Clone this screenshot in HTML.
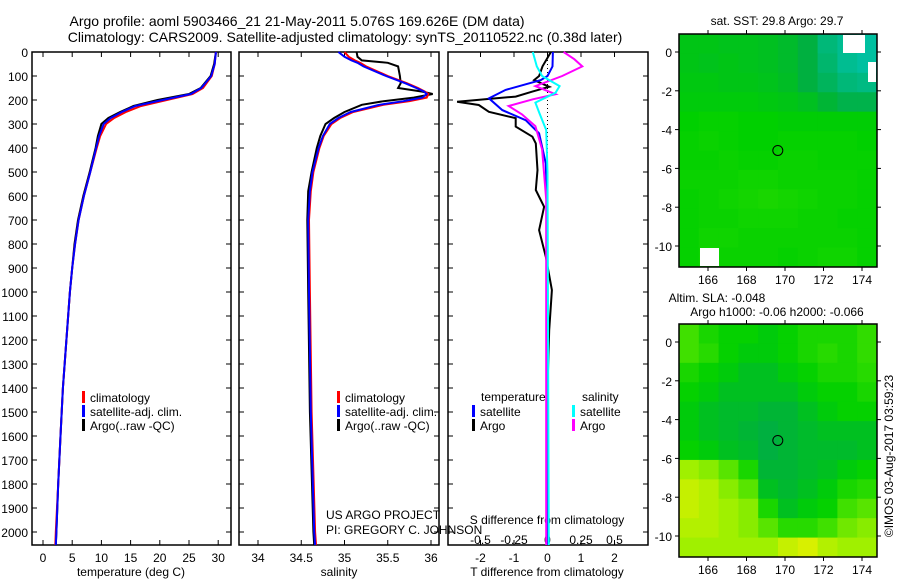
<!DOCTYPE html>
<html><head><meta charset="utf-8"><style>
html,body{margin:0;padding:0;background:#fff;}
svg{display:block;font-family:"Liberation Sans",sans-serif;}
text{fill:#000;}
</style></head><body>
<svg id="chart" width="900" height="580" viewBox="0 0 900 580" xmlns="http://www.w3.org/2000/svg">
<text x="297" y="26" font-size="14" text-anchor="middle">Argo profile: aoml 5903466_21 21-May-2011 5.076S 169.626E (DM data)</text>
<text x="345" y="42" font-size="14" text-anchor="middle">Climatology: CARS2009. Satellite-adjusted climatology: synTS_20110522.nc (0.38d later)</text>
<g id="g"></g>
</svg>
<script>
// ---- data ----
const depthTicks=[0,100,200,300,400,500,600,700,800,900,1000,1100,1200,1300,1400,1500,1600,1700,1800,1900,2000];
const tempTicks=[0,5,10,15,20,25,30];
const salTicks=[34,34.5,35,35.5,36];
const tdiffTicks=[-2,-1,0,1,2];
const sdiffTicks=[-0.5,-0.25,0,0.25,0.5];
const latTicks=[0,-2,-4,-6,-8,-10];
const lonTicks=[166,168,170,172,174];

const tDepth=[0,50,100,150,175,200,225,250,275,300,350,400,500,600,700,800,900,1000,1200,1400,1600,1800,2000,2054];
const tArgo=[29.6,29.3,28.7,27,25,19.6,15.5,13.2,11.2,10.0,9.4,9.0,8.0,6.9,6.0,5.4,5.0,4.6,4.0,3.4,3.0,2.6,2.3,2.2];
const tClim=[29.6,29.4,28.9,27.4,25.6,21.2,16.8,14.2,12.2,10.8,9.8,9.2,8.1,7.0,6.1,5.5,5.0,4.6,4.0,3.4,3.0,2.6,2.2,2.1];
const tSat=[29.6,29.4,28.8,27.1,25.3,20.5,15.8,13.5,11.6,10.4,9.6,9.1,8.1,7.0,6.1,5.5,5.0,4.6,4.0,3.4,3.0,2.6,2.3,2.2];

const sDepth=[0,20,35,45,60,100,130,150,165,175,190,205,220,250,275,300,350,400,500,580,700,1000,1500,2000,2054];
const sArgo=[35.14,35.15,35.2,35.5,35.62,35.64,35.65,35.62,35.9,36.02,35.8,35.45,35.2,35.0,34.88,34.78,34.72,34.68,34.62,34.58,34.57,34.58,34.6,34.64,34.65];
const sClim=[35.0,35.05,35.12,35.18,35.25,35.5,35.72,35.85,35.93,35.97,35.95,35.75,35.45,35.1,34.95,34.85,34.76,34.71,34.64,34.61,34.59,34.6,34.62,34.66,34.67];
const sSat=[34.93,35.0,35.08,35.15,35.22,35.48,35.7,35.83,35.92,35.95,35.9,35.68,35.4,35.07,34.93,34.83,34.75,34.7,34.63,34.6,34.58,34.59,34.61,34.65,34.66];

const dtDepthSat=[0,60,100,117,158,193,242,284,339,464,700,1000,1500,2054];
const dtSat=[0.16,0.15,0.0,-0.2,-1.25,-1.75,-1.35,-0.65,-0.25,-0.05,0.0,0.0,0.0,0.0];
const dtDepthArgo=[0,60,100,117,145,165,186,207,221,249,276,311,353,381,492,575,645,742,853,992,1159,1400,2054];
const dtArgo=[0.1,-0.15,-0.25,-0.4,0.05,-0.45,-0.95,-2.7,-2.05,-1.75,-0.95,-0.95,-0.45,-0.35,-0.3,-0.35,-0.1,-0.25,-0.05,0.13,0.05,0.0,0.0];
const dsDepthSat=[0,60,100,142,170,211,256,325,500,2054];
const dsSat=[-0.11,-0.08,-0.04,0.09,0.06,-0.09,-0.06,-0.01,0.0,0.01];
const dsDepthArgo=[0,30,60,100,142,176,197,225,260,309,406,615,2054];
const dsArgo=[0.12,0.2,0.26,0.11,-0.09,0.06,-0.11,-0.29,-0.19,-0.09,-0.04,-0.01,-0.01];

const sstGrid=[
[.38,.38,.37,.37,.36,.34,.3,.2,.15,.12],
[.38,.37,.38,.37,.36,.34,.3,.22,.15,.12],
[.39,.39,.38,.38,.37,.35,.3,.25,.2,.18],
[.4,.4,.4,.4,.39,.38,.36,.32,.28,.28],
[.42,.43,.43,.42,.42,.41,.41,.41,.41,.41],
[.43,.44,.43,.42,.42,.43,.43,.43,.43,.42],
[.43,.43,.44,.43,.43,.44,.44,.43,.43,.43],
[.44,.44,.44,.45,.45,.44,.44,.44,.44,.43],
[.43,.44,.45,.46,.47,.46,.45,.44,.44,.43],
[.43,.44,.44,.45,.45,.45,.44,.44,.43,.43],
[.43,.45,.45,.44,.44,.44,.44,.44,.44,.43],
[.43,.45,.44,.44,.44,.43,.44,.45,.45,.43]];
const slaGrid=[
[.55,.47,.43,.43,.4,.43,.47,.47,.47,.52],
[.55,.5,.43,.4,.4,.43,.47,.5,.47,.52],
[.47,.43,.4,.36,.36,.4,.43,.47,.47,.5],
[.43,.4,.36,.36,.36,.36,.4,.43,.43,.47],
[.4,.36,.34,.34,.32,.32,.36,.4,.43,.43],
[.4,.36,.34,.32,.3,.32,.34,.36,.36,.36],
[.43,.4,.36,.34,.3,.32,.34,.34,.34,.36],
[.75,.7,.6,.47,.32,.32,.34,.36,.4,.43],
[.85,.8,.7,.6,.36,.33,.36,.4,.47,.5],
[.85,.8,.75,.7,.47,.36,.4,.43,.55,.6],
[.8,.8,.75,.7,.6,.5,.5,.55,.65,.7],
[.75,.75,.75,.75,.75,.85,.9,.8,.75,.75]];

// ---- helpers ----
const NS='http://www.w3.org/2000/svg';
const G=document.getElementById('g');
function mk(tag,attrs,parent){const e=document.createElementNS(NS,tag);for(const k in attrs)e.setAttribute(k,attrs[k]);(parent||G).appendChild(e);return e;}
function txt(s,x,y,size,anchor,name){const t=mk('text',{x:x,y:y,'font-size':size,'text-anchor':anchor||'start'});t.textContent=s;


return t;}
const Y=d=>52+d*0.24;
const PT=52, PB=545;
const panels=[{x0:32,x1:231},{x0:239,x1:439},{x0:448,x1:648}];
const Xt=v=>43+v*5.84;
const Xs=v=>258+(v-34)*86.5;
const Xdt=v=>547.5+v*33.5;
const Xds=v=>547.5+v*134;

panels.forEach((p,i)=>{
  const r=mk('rect',{x:p.x0,y:PT,width:p.x1-p.x0,height:PB-PT,fill:'none',stroke:'#000','stroke-width':1.5});
  
  
  depthTicks.forEach(d=>{
    mk('line',{x1:p.x0,x2:p.x0+5,y1:Y(d),y2:Y(d),stroke:'#000'});
    mk('line',{x1:p.x1,x2:p.x1-5,y1:Y(d),y2:Y(d),stroke:'#000'});
  });
});
depthTicks.forEach(d=>{txt(String(d),28,Y(d)+5,12,'end','depth-tick-label');});
tempTicks.forEach(v=>{mk('line',{x1:Xt(v),x2:Xt(v),y1:PB,y2:PB-5,stroke:'#000'});mk('line',{x1:Xt(v),x2:Xt(v),y1:PT,y2:PT+5,stroke:'#000'});txt(String(v),Xt(v),562,12,'middle','temp-tick-label');});
salTicks.forEach(v=>{mk('line',{x1:Xs(v),x2:Xs(v),y1:PB,y2:PB-5,stroke:'#000'});mk('line',{x1:Xs(v),x2:Xs(v),y1:PT,y2:PT+5,stroke:'#000'});txt(String(v),Xs(v),562,12,'middle','salinity-tick-label');});
tdiffTicks.forEach(v=>{mk('line',{x1:Xdt(v),x2:Xdt(v),y1:PB,y2:PB-5,stroke:'#000'});mk('line',{x1:Xdt(v),x2:Xdt(v),y1:PT,y2:PT+5,stroke:'#000'});txt(String(v),Xdt(v),562,12,'middle','tdiff-tick-label');});
sdiffTicks.forEach(v=>{txt(String(v),Xds(v),544,12,'middle','sdiff-tick-label');});
txt('temperature (deg C)',131,576,12,'middle','temperature-axis-title');
txt('salinity',339,576,12,'middle','salinity-axis-title');
txt('T difference from climatology',547,576,12,'middle','tdiff-axis-title');
txt('S difference from climatology',547,524,12,'middle','sdiff-axis-title');
txt('US ARGO PROJECT',326,519,12,'start','project-credit');
txt('PI: GREGORY C. JOHNSON',326,534,12,'start','pi-credit');
mk('line',{x1:547.5,x2:547.5,y1:PT,y2:PB,stroke:'#000','stroke-dasharray':'1,3'});

function line(xs,ds,xf,color,name,w){
  const pts=xs.map((v,i)=>xf(v).toFixed(1)+','+Y(ds[i]).toFixed(1)).join(' ');
  const l=mk('polyline',{points:pts,fill:'none',stroke:color,'stroke-width':w||2});
  
  
}
line(tArgo,tDepth,Xt,'#000','temp-argo-line');
line(tClim,tDepth,Xt,'#f00','temp-climatology-line');
line(tSat,tDepth,Xt,'#00f','temp-satellite-line');
line(sArgo,sDepth,Xs,'#000','salinity-argo-line');
line(sClim,sDepth,Xs,'#f00','salinity-climatology-line');
line(sSat,sDepth,Xs,'#00f','salinity-satellite-line');
line(dtArgo,dtDepthArgo,Xdt,'#000','tdiff-argo-line');
line(dtSat,dtDepthSat,Xdt,'#00f','tdiff-satellite-line');
line(dsArgo,dsDepthArgo,Xds,'#f0f','sdiff-argo-line');
line(dsSat,dsDepthSat,Xds,'#0ff','sdiff-satellite-line');

function legend(x,y,color,label){
  mk('rect',{x:x,y:y-10,width:3,height:12,fill:color});
  txt(label,x+8,y+1,12,'start','legend-entry');
}
[[82,'#f00','climatology'],[82,'#00f','satellite-adj. clim.'],[82,'#000','Argo(..raw -QC)']].forEach((e,i)=>legend(e[0],401+i*14,e[1],e[2]));
[[337,'#f00','climatology'],[337,'#00f','satellite-adj. clim.'],[337,'#000','Argo(..raw -QC)']].forEach((e,i)=>legend(e[0],401+i*14,e[1],e[2]));
txt('temperature',481,401,12,'start','legend-heading-temperature');
txt('salinity',582,401,12,'start','legend-heading-salinity');
legend(472,415,'#00f','satellite');legend(472,429,'#000','Argo');
legend(572,415,'#0ff','satellite');legend(572,429,'#f0f','Argo');

// ---- maps ----
const stops=[[0,'#00c8b8'],[0.12,'#00c0a0'],[0.2,'#00b878'],[0.3,'#00b040'],[0.42,'#00d000'],[0.55,'#40e000'],[0.75,'#a0f000'],[0.9,'#d8f000'],[1,'#f0f000']];
function hex(c){return [1,3,5].map(i=>parseInt(c.substr(i,2),16));}
function col(v){for(let i=1;i<stops.length;i++){if(v<=stops[i][0]){const a=stops[i-1],b=stops[i];const t=(v-a[0])/(b[0]-a[0]);const ca=hex(a[1]),cb=hex(b[1]);return 'rgb('+ca.map((c,k)=>Math.round(c+(cb[k]-c)*t)).join(',')+')';}}return stops[stops.length-1][1];}
function map(top,grid,name){
  const L=679,R=877,B=top+233;
  const lonX=lon=>708+(lon-166)*19.25;
  const latY=lat=>top+18+(-lat)*19.4;
  const rows=grid.length, cols=grid[0].length;
  const cw=(R-L)/cols, ch=(B-top)/rows;
  grid.forEach((row,r)=>row.forEach((v,c)=>{
    const cell=mk('rect',{x:L+c*cw,y:top+r*ch,width:cw+0.5,height:ch+0.5,fill:col(v)});
    
    
  }));
  const fr=mk('rect',{x:L,y:top,width:R-L,height:B-top,fill:'none',stroke:'#000','stroke-width':1.5});
  
  
  latTicks.forEach(l=>{mk('line',{x1:L-4,x2:L,y1:latY(l),y2:latY(l),stroke:'#000'});mk('line',{x1:R,x2:R+4,y1:latY(l),y2:latY(l),stroke:'#000'});txt(String(l),672,latY(l)+5,12,'end',name+'-lat-label');});
  lonTicks.forEach(l=>{mk('line',{x1:lonX(l),x2:lonX(l),y1:B,y2:B+4,stroke:'#000'});mk('line',{x1:lonX(l),x2:lonX(l),y1:top-4,y2:top,stroke:'#000'});txt(String(l),lonX(l),B+17,12,'middle',name+'-lon-label');});
  const m=mk('circle',{cx:lonX(169.626),cy:latY(-5.076),r:5,fill:'none',stroke:'#000'});
  
  
}
map(34,sstGrid,'sst-map');
txt('sat. SST: 29.8  Argo: 29.7',777,25,12,'middle','sst-map-title');
mk('rect',{x:843,y:35,width:22,height:18,fill:'#fff'});
mk('rect',{x:868,y:62,width:8,height:20,fill:'#fff'});
mk('rect',{x:700,y:248,width:19,height:18,fill:'#fff'});
map(324,slaGrid,'sla-map');
txt('Altim. SLA: -0.048',717,302,12,'middle','sla-map-title');
txt('Argo h1000: -0.06 h2000: -0.066',777,316,12,'middle','argo-height-title');
const cr=txt('©IMOS 03-Aug-2017 03:59:23',0,0,12,'middle','imos-credit');
cr.setAttribute('transform','translate(893,456) rotate(-90)');
</script>
</body></html>
